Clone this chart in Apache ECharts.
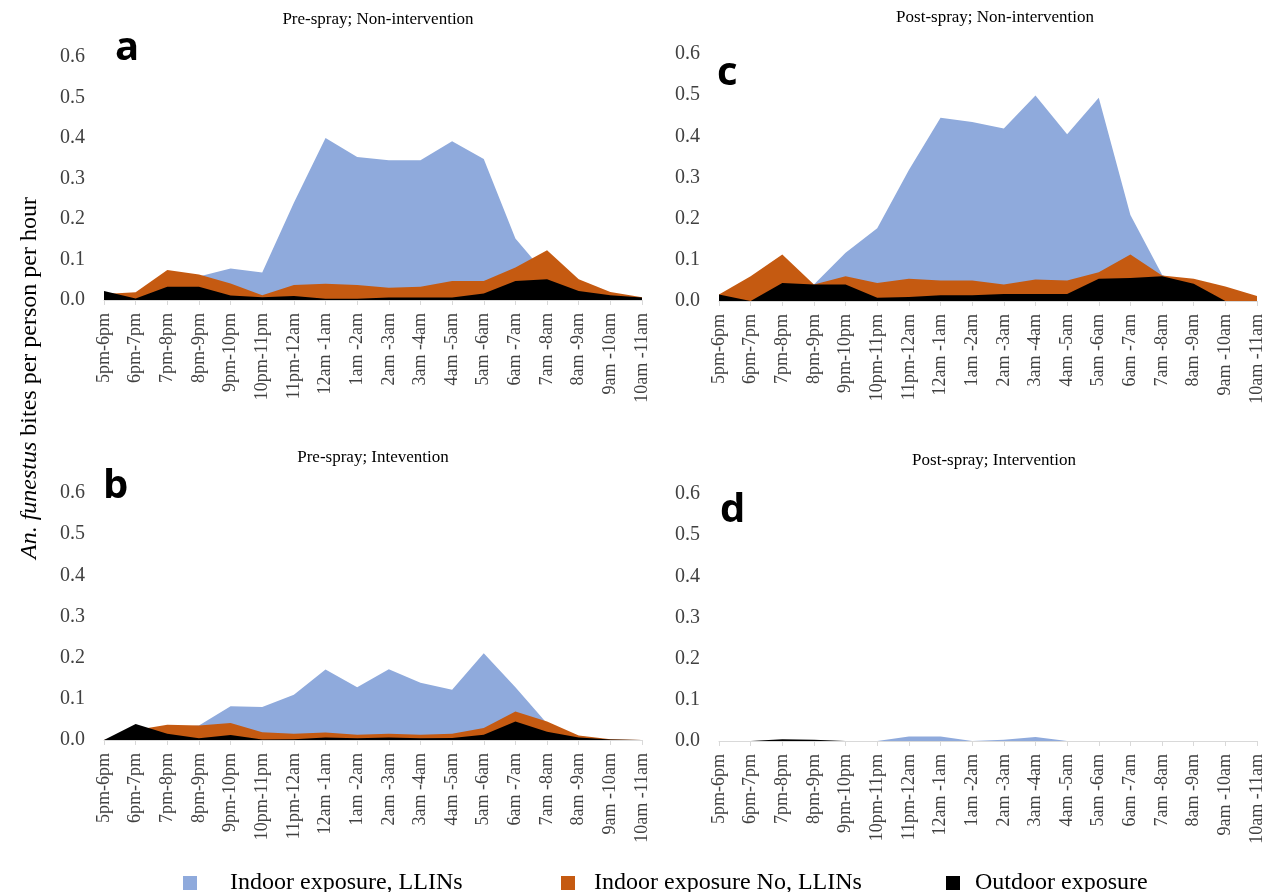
<!DOCTYPE html>
<html>
<head>
<meta charset="utf-8">
<script src="https://cdn.jsdelivr.net/npm/echarts@6/dist/echarts.min.js"></script>
<style>html,body{margin:0;padding:0;background:#fff;}#c{width:1279px;height:892px;}</style>
</head>
<body>
<div id="c"></div>
<script>
const categories = ["5pm-6pm","6pm-7pm","7pm-8pm","8pm-9pm","9pm-10pm","10pm-11pm","11pm-12am","12am -1am","1am -2am","2am -3am","3am -4am","4am -5am","5am -6am","6am -7am","7am -8am","8am -9am","9am -10am","10am -11am"];
const yTicks = [0, 0.1, 0.2, 0.3, 0.4, 0.5, 0.6];
const seriesNames = ["Indoor exposure, LLINs", "Indoor exposure No, LLINs", "Outdoor exposure"];
const panelTitles = ["Pre-spray; Non-intervention", "Pre-spray; Intevention", "Post-spray; Non-intervention", "Post-spray; Intervention"];
const panelLetters = ["a", "b", "c", "d"];

// Panel a: Pre-spray, Non-intervention
const aLLIN    = [0.02, 0.005, 0.06, 0.058, 0.078, 0.068, 0.24, 0.40, 0.353, 0.345, 0.345, 0.392, 0.348, 0.152, 0.06, 0.02, 0.01, 0.0];
const aNoLLIN  = [0.015, 0.019, 0.074, 0.063, 0.041, 0.012, 0.037, 0.040, 0.037, 0.030, 0.033, 0.047, 0.047, 0.080, 0.123, 0.051, 0.020, 0.007];
const aOutdoor = [0.022, 0.004, 0.033, 0.033, 0.011, 0.007, 0.010, 0.003, 0.003, 0.006, 0.006, 0.006, 0.016, 0.047, 0.051, 0.022, 0.012, 0.006];
// Panel b: Pre-spray, Intervention
const bLLIN    = [0.0, 0.02, 0.03, 0.035, 0.082, 0.080, 0.110, 0.171, 0.128, 0.172, 0.139, 0.122, 0.211, 0.128, 0.04, 0.01, 0.0, 0.0];
const bNoLLIN  = [0.0, 0.024, 0.037, 0.035, 0.041, 0.019, 0.015, 0.018, 0.013, 0.015, 0.013, 0.015, 0.029, 0.069, 0.045, 0.011, 0.002, 0.001];
const bOutdoor = [0.0, 0.039, 0.015, 0.004, 0.012, 0.001, 0.002, 0.006, 0.004, 0.006, 0.004, 0.005, 0.013, 0.045, 0.020, 0.006, 0.001, 0.0];
// Panel c: Post-spray, Non-intervention
const cLLIN    = [0.01, 0.0, 0.03, 0.040, 0.117, 0.177, 0.318, 0.445, 0.435, 0.419, 0.499, 0.405, 0.494, 0.209, 0.064, 0.02, 0.0, 0.0];
const cNoLLIN  = [0.016, 0.060, 0.113, 0.040, 0.060, 0.044, 0.054, 0.050, 0.050, 0.040, 0.052, 0.050, 0.070, 0.113, 0.062, 0.054, 0.035, 0.012];
const cOutdoor = [0.016, 0.0, 0.044, 0.040, 0.040, 0.008, 0.010, 0.014, 0.014, 0.017, 0.017, 0.017, 0.054, 0.056, 0.060, 0.042, 0.0, 0.0];
// Panel d: Post-spray, Intervention
const dLLIN    = [0, 0, 0, 0, 0, 0, 0.011, 0.011, 0, 0.003, 0.010, 0, 0, 0, 0, 0, 0, 0];
const dNoLLIN  = [0, 0, 0, 0, 0, 0, 0, 0, 0, 0, 0, 0, 0, 0, 0, 0, 0, 0];
const dOutdoor = [0, 0, 0.004, 0.003, 0, 0, 0, 0, 0, 0, 0, 0, 0, 0, 0, 0, 0, 0];

const panelData = [
  [aLLIN, aNoLLIN, aOutdoor],
  [bLLIN, bNoLLIN, bOutdoor],
  [cLLIN, cNoLLIN, cOutdoor],
  [dLLIN, dNoLLIN, dOutdoor]
];
const colors = ["#8FAADC", "#C55A11", "#000000"];

const gridBoxes = [
  {left: 104, width: 538, top: 57, height: 243},
  {left: 104, width: 538, top: 493, height: 247},
  {left: 719, width: 538, top: 54, height: 247},
  {left: 719, width: 538, top: 494, height: 247}
];
const titlePos = [[378, 11], [373, 449], [995, 9], [994, 452]];
const letterPos = [[115, 29], [103, 467], [717, 54], [720, 491]];

const serif = "'Liberation Serif', 'Times New Roman', serif";
const grid = [], xAxis = [], yAxis = [], series = [], graphic = [];
for (let p = 0; p < 4; p++) {
  grid.push(Object.assign({containLabel: false}, gridBoxes[p]));
  xAxis.push({
    type: 'category', gridIndex: p, data: categories, boundaryGap: false,
    axisLine: {lineStyle: {color: '#d9d9d9', width: 1}},
    axisTick: {show: true, length: 5, interval: 0, lineStyle: {color: '#d9d9d9'}},
    axisLabel: {rotate: 90, interval: 0, fontFamily: serif, fontSize: 18, color: '#404040', margin: 13},
    splitLine: {show: false}, z: 10
  });
  yAxis.push({
    type: 'value', gridIndex: p, min: 0, max: 0.6, interval: 0.1,
    axisLine: {show: false}, axisTick: {show: false}, splitLine: {show: false},
    axisLabel: {fontFamily: serif, fontSize: 20, color: '#404040', margin: 19,
      formatter: v => v.toFixed(1)}
  });
  for (let s = 0; s < 3; s++) {
    series.push({
      name: seriesNames[s], type: 'line', xAxisIndex: p, yAxisIndex: p,
      data: panelData[p][s], symbol: 'none', showSymbol: false,
      lineStyle: {width: 0, color: colors[s]}, itemStyle: {color: colors[s]},
      areaStyle: {color: colors[s], opacity: 1}, z: 2 + s, silent: true, animation: false
    });
  }
  graphic.push({
    type: 'text', x: titlePos[p][0], y: titlePos[p][1],
    style: {text: panelTitles[p], font: "17px " + serif, fill: '#000', align: 'center', verticalAlign: 'top'}
  });
  graphic.push({
    type: 'text', x: letterPos[p][0], y: letterPos[p][1],
    style: {text: panelLetters[p], font: "bold 40px 'Open Sans', 'DejaVu Sans', sans-serif", fill: '#000', verticalAlign: 'top'}
  });
}
graphic.push({
  type: 'text', x: 18, y: 378, rotation: Math.PI / 2,
  style: {
    text: '{i|An. funestus} bites per person per hour',
    font: "24px " + serif, fill: '#000', align: 'center', verticalAlign: 'top',
    rich: {i: {fontStyle: 'italic', fontFamily: serif, fontSize: 24, fill: '#000'}}
  }
});

const legendX = [178, 556, 941];
const legendPad = [28, 14, 10];
const legend = seriesNames.map((n, i) => ({
  data: [n], left: legendX[i], top: 866, icon: 'rect', itemWidth: 14, itemHeight: 14, itemGap: 0,
  textStyle: {fontFamily: serif, fontSize: 24, color: '#000', padding: [0, 0, 0, legendPad[i]]},
  selectedMode: false
}));

const chart = echarts.init(document.getElementById('c'), null, {renderer: 'canvas'});
chart.setOption({
  animation: false, backgroundColor: '#fff',
  grid, xAxis, yAxis, series, graphic, legend
});
</script>
</body>
</html>
